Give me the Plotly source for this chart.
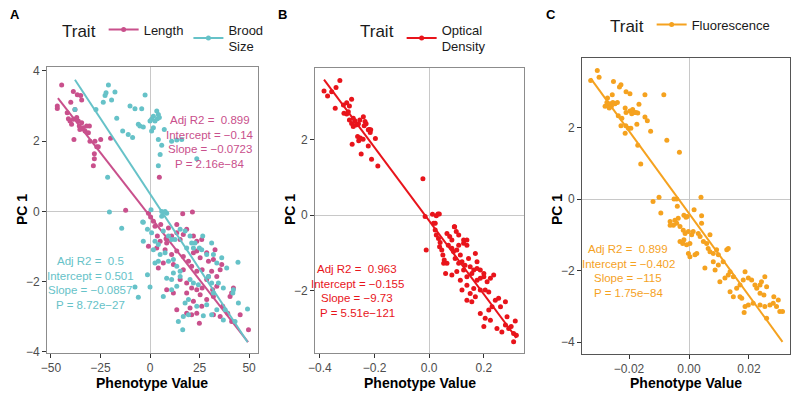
import plotly.graph_objects as go

# ---- data ----
# Panel A: Length (pink)
len_x = [-44.6, -46.8, -46.8, -38.7, -36.7, -35.0, -34.5, -40.0, -37.9, -41.8, -41.2, -40.4, -39.6, -38.7,
         -37.0, -36.2, -35.7, -34.5, -33.7, -32.8, -32.0, -30.6, -31.1, -35.4, -38.4, -30.3, -27.8, -24.9,
         -26.9, -26.1, -28.1, -28.1, -28.6, -19.9, -12.3, 4.7, -0.8, 16.5, 21.4, 0.3,
         1.7, 2.5, 5.4, 9.3, 13.5, 18.5, 13.5, 10.9, 8.1, 3.7, 5.1, 8.4, 15.2, 16.8, 21.9, 23.6, 26.1,
         23.6, -0.8, 3.4, 7.6, 10.9, 13.5, 16.8, 19.4, 21.9, 25.3, 28.6, 29.5, 32.0, 32.8, 6.7, 4.2, 11.8,
         16.8, 21.0, 23.6, 26.3, 31.1, 35.4, 36.2, 15.2, 18.5, 21.0, 23.6, 26.3, 28.6, 31.6, 8.4, 11.8,
         18.5, 25.3, 32.0, 33.7, 40.4, 41.2, 42.1, 28.6, 21.9, 26.1, 20.2, 13.5, 18.5, 21.0, 23.6, 32.0,
         35.4, 39.2, 45.5, 41.2, 24.9, 49.7, 36.7, 33.7, 29.5]
len_y = [3.60, 3.00, 2.93, 3.41, 3.32, 3.30, 3.17, 3.11, 2.90, 2.81, 2.64, 2.57, 2.48, 2.62,
         2.67, 2.57, 2.43, 2.52, 2.38, 2.29, 2.43, 2.43, 2.24, 2.33, 2.05, 2.00, 2.00, 2.05,
         1.84, 1.84, 1.64, 1.50, 1.30, 2.08, 0.03, 0.97, -0.05, -0.07, -0.02, -0.16,
         -0.28, -0.42, -0.37, -0.47, -0.37, -0.51, -0.61, -0.70, -0.78, -0.70, -0.85, -0.90, -0.80, -0.66,
         -0.70, -0.85, -0.80, -1.13, -0.99, -1.04, -1.09, -1.23, -1.13, -1.28, -1.42, -1.18, -1.32, -1.18,
         -1.42, -1.37, -1.09, -1.47, -1.61, -1.51, -1.66, -1.56, -1.70, -1.66, -1.70, -1.66, -1.51, -1.94,
         -2.04, -2.18, -2.23, -2.18, -1.94, -2.23, -2.23, -2.32, -2.32, -2.37, -2.42, -2.13, -2.42, -2.32,
         -2.18, -2.51, -2.56, -2.70, -2.75, -2.80, -2.90, -2.94, -2.90, -2.94, -2.99, -2.90, -2.94, -3.13,
         -3.18, -3.37, -2.70, -1.85, -1.85]

# Panel A: Brood Size (teal)
brood_x = [-21.0, -22.7, -22.2, -17.7, -19.4, -23.6, -2.5, -10.1, -7.6, -4.2, -37.9, -27.3, -16.8,
           3.4, 4.2, 1.7, 0.8, 2.5, 3.7, 4.7, 0.0, -5.9, -5.1, -3.4, -13.8, -11.0, -8.8, 1.7, 0.8, 7.2,
           4.2, 10.9, 13.5, 16.0, 5.9, 5.1, 23.6, 4.2, -21.4, -20.5, 0.5, 5.9, 8.4, 5.9, -3.4, -14.3,
           -3.7, 7.6, -1.3, -3.4, 0.8, 2.5, 4.2, 6.7, 9.3, 10.9, 12.6, 15.2, 17.7, 20.2, 22.7, 26.6,
           1.7, 5.1, 7.6, 9.3, 4.2, 2.5, 11.8, 13.5, 15.2, 18.5, 21.0, 21.9, 24.9, 26.1, 28.6, 31.1, 32.0,
           33.7, 36.2, 38.7, 44.4, -1.3, 0.0, -7.6, -5.9, 6.7, 10.9, 13.5, 20.2, 21.9, 24.4, 29.5, 31.1,
           32.0, 34.5, 37.0, 42.1, 41.8, 44.6, 49.2, 17.7, 19.4, 23.6, 28.6, 33.7, 37.9, 14.3, 16.8, 19.4,
           26.9, 31.1, 37.0, 42.9, 16.5, 11.8, 15.2, 8.4, 10.9]
brood_y = [3.60, 3.30, 3.38, 3.40, 3.17, 3.11, 3.31, 3.00, 2.92, 2.92, 2.90, 2.90, 2.65,
           2.86, 2.76, 2.71, 2.62, 2.57, 2.64, 2.67, 2.57, 2.48, 2.43, 2.40, 2.29, 2.19, 2.10, 2.38, 2.29,
           2.33, 2.05, 2.00, 2.03, 2.05, 1.88, 1.62, 1.50, 1.30, 0.97, -0.02, 0.05, 0.00, -0.05, -0.14,
           -0.31, -0.48, -0.30, 0.00, -0.51, -0.85, -0.61, -0.85, -0.94, -0.56, -0.70, -0.80, -0.80, -0.51,
           -0.56, -0.70, -0.90, -0.70, -1.09, -1.23, -1.18, -1.42, -1.42, -1.47, -1.37, -1.56, -1.70, -1.04,
           -0.90, -1.04, -1.04, -1.09, -1.23, -0.90, -1.23, -1.47, -1.32, -1.61, -1.45, -1.80, -2.15, -2.15,
           -2.44, -2.42, -2.23, -2.13, -1.94, -2.04, -2.09, -1.85, -2.04, -2.32, -2.04, -2.18, -2.23, -2.32,
           -2.61, -2.78, -2.61, -2.51, -2.70, -2.66, -2.80, -2.80, -3.13, -2.99, -2.94, -2.97, -2.94, -3.09,
           -3.13, -3.37, -1.75, -1.85, -1.90, -1.94]

# Panel B: Optical Density (red)
od_x = [-0.385, -0.372, -0.341, -0.327, -0.357, -0.344, -0.314, -0.302, -0.292, -0.284, -0.312, -0.302,
        -0.296, -0.292, -0.278, -0.272, -0.284, -0.278, -0.268, -0.259, -0.241, -0.235, -0.231, -0.238,
        -0.254, -0.223, -0.216, -0.219, -0.214, -0.262, -0.252, -0.242, -0.258, -0.197, -0.282, -0.223,
        -0.249, -0.211, -0.188, -0.023, -0.015, 0.012, 0.026, 0.032, 0.037, 0.022, 0.093,
        -0.011, 0.016, 0.022, 0.026, 0.034, 0.040, 0.038, 0.046, 0.050, 0.055, 0.065, 0.060, 0.053,
        0.065, 0.075, 0.083, 0.092, 0.099, 0.108, 0.070, 0.083, 0.089, 0.101, 0.114, 0.126, 0.138,
        0.095, 0.108, 0.120, 0.131, 0.144, 0.150, 0.163, 0.083, 0.101, 0.114, 0.126, 0.138, 0.156, 0.169,
        0.175, 0.120, 0.138, 0.150, 0.163, 0.175, 0.187, 0.200, 0.138, 0.156, 0.169, 0.187, 0.212, 0.205,
        0.218, 0.187, 0.205, 0.218, 0.230, 0.242, 0.254, 0.261, 0.200, 0.224, 0.248, 0.266, 0.279, 0.285,
        0.279, 0.291, 0.300, 0.309, 0.315, 0.319, 0.309, 0.175, 0.187, 0.200, 0.224, 0.236, 0.108, 0.126,
        0.138]
od_y = [3.29, 3.16, 3.38, 3.57, 3.27, 2.83, 2.92, 2.98, 2.89, 3.07, 2.70, 2.68,
        2.74, 2.52, 2.57, 2.50, 2.43, 2.35, 2.39, 2.42, 2.61, 2.48, 2.42, 2.37,
        2.52, 2.26, 2.19, 2.27, 2.26, 2.08, 2.04, 2.01, 1.97, 2.03, 1.88, 1.83,
        1.62, 1.48, 1.30, 0.96, -0.04, 0.02, -0.02, 0.03, 0.03, -0.22, -0.31,
        -0.93, -0.22, -0.40, -0.53, -0.62, -0.73, -0.84, -0.93, -1.06, -1.19, -1.28, -1.55, -1.28,
        -0.49, -0.57, -0.66, -0.31, -0.44, -0.53, -0.80, -0.88, -0.97, -0.93, -1.06, -0.75, -0.66,
        -1.15, -1.28, -1.24, -1.33, -1.15, -1.37, -1.46, -1.59, -1.50, -1.73, -1.46, -1.64, -1.55, -1.02,
        -1.24, -1.99, -1.86, -2.08, -1.95, -1.73, -1.68, -1.64, -2.26, -2.30, -2.17, -1.99, -1.77, -1.99,
        -2.04, -2.61, -2.74, -2.52, -2.43, -2.26, -2.21, -2.43, -2.96, -2.79, -3.01, -3.10, -2.92, -2.70,
        -2.30, -3.01, -2.96, -3.14, -2.81, -3.19, -3.36, -1.42, -1.46, -1.55, -1.68, -1.59, -0.80, -0.66,
        -0.80]

# Panel C: Fluorescence (orange)
fl_x = [-0.0328, -0.0306, -0.0300, -0.0252, -0.0232, -0.0227, -0.0210, -0.0197, -0.0256, -0.0272,
        -0.0147, -0.0084, -0.0280, -0.0269, -0.0263, -0.0254, -0.0247, -0.0239, -0.0274, -0.0266,
        -0.0259, -0.0167, -0.0213, -0.0210, -0.0197, -0.0191, -0.0183, -0.0177, -0.0171, -0.0188,
        -0.0236, -0.0224, -0.0147, -0.0139, -0.0174, -0.0227, -0.0211, -0.0202, -0.0194, -0.0213,
        -0.0128, -0.0074, -0.0171, -0.0161, -0.0032, -0.0100, -0.0120, -0.0094, -0.0050, -0.0041,
        -0.0039, 0.0017, 0.0040, 0.0042,
        -0.0063, -0.0047, -0.0052, -0.0041, -0.0036, -0.0030, -0.0063, -0.0017, -0.0010, -0.0006,
        0.0042, -0.0019, -0.0013, -0.0002, 0.0009, 0.0014, -0.0030, -0.0021, -0.0017, -0.0008, 0.0003,
        -0.0002, 0.0003, 0.0020, 0.0026, 0.0031, 0.0037, 0.0048, 0.0059, 0.0070, 0.0064, 0.0070, 0.0081,
        0.0092, 0.0098, 0.0081, 0.0087, 0.0098, 0.0114, 0.0126, 0.0131, 0.0053, 0.0103, 0.0120, 0.0131,
        0.0137, 0.0148, 0.0137, 0.0148, 0.0159, 0.0170, 0.0181, 0.0170, 0.0176, 0.0187, 0.0198, 0.0209,
        0.0220, 0.0187, 0.0198, 0.0214, 0.0184, 0.0226, 0.0237, 0.0242, 0.0253, 0.0259, 0.0250, 0.0237,
        0.0253, 0.0270, 0.0281, 0.0283, 0.0298, 0.0292, 0.0303, 0.0312, 0.0259, 0.0237]
fl_y = [3.31, 3.59, 3.40, 3.28, 3.13, 3.19, 3.00, 2.94, 2.91, 2.82,
        2.91, 2.91, 2.59, 2.60, 2.66, 2.70, 2.66, 2.70, 2.70, 2.54,
        2.59, 2.65, 2.54, 2.42, 2.46, 2.38, 2.42, 2.42, 2.40, 2.50,
        2.33, 2.26, 2.29, 2.19, 2.09, 2.05, 2.05, 1.98, 1.98, 1.84,
        1.89, 1.64, 1.50, 0.98, 1.31, 0.05, -0.07, -0.39, 0.00, 0.00,
        -0.20, -0.30, 0.05, -0.47,
        -0.63, -0.59, -0.73, -0.68, -0.54, -0.77, -0.73, -0.45, -0.51, -0.49,
        -0.68, -0.87, -0.96, -0.91, -1.00, -0.91, -1.19, -1.24, -1.14, -1.28, -1.24,
        -1.52, -1.61, -1.56, -1.52, -0.96, -1.05, -1.19, -1.24, -1.00, -1.38, -1.47, -1.52,
        -1.42, -1.56, -1.75, -1.98, -1.84, -1.75, -1.42, -1.38, -1.93, -2.31, -2.21, -2.12,
        -2.03, -2.17, -2.59, -2.73, -2.49, -2.40, -2.26, -2.73, -2.77, -2.03, -2.21, -2.26,
        -2.40, -3.00, -2.96, -2.91, -3.17, -2.49, -2.40, -2.31, -2.17, -2.45, -2.68, -2.96,
        -3.00, -2.96, -2.91, -2.73, -2.82, -3.00, -3.14, -3.14, -3.33, -2.63]

# regression results (shown on the chart)
fits = {
    "Length":    dict(r2="0.899", icpt=-0.14, slope=-0.0723, p="2.16e\u221284", x=[-46.5, 49.5]),
    "Brood":     dict(r2="0.5", icpt=0.501, slope=-0.0857, p="8.72e\u221227", x=[-37.9, 49.2]),
    "OD":        dict(r2="0.963", icpt=-0.155, slope=-9.73, p="5.51e\u2212121", x=[-0.385, 0.319]),
    "Fluor":     dict(r2="0.899", icpt=-0.402, slope=-115, p="1.75e\u221284", x=[-0.0328, 0.0312]),
}

PINK = "#C9508C"
TEAL = "#66C2C8"
RED = "#E8141B"
ORANGE = "#F5A21F"

FONT = "Liberation Sans, Arial, sans-serif"

fig = go.Figure()


def add_series(x, y, fit, color, name, ax, legend):
    xa = "x" if ax == 1 else "x%d" % ax
    ya = "y" if ax == 1 else "y%d" % ax
    fig.add_trace(go.Scatter(x=x, y=y, mode="markers", xaxis=xa, yaxis=ya,
                             marker=dict(color=color, size=5), showlegend=False, hoverinfo="skip"))
    lx = fit["x"]
    ly = [fit["icpt"] + fit["slope"] * v for v in lx]
    fig.add_trace(go.Scatter(x=lx, y=ly, mode="lines", xaxis=xa, yaxis=ya,
                             line=dict(color=color, width=2), showlegend=False))
    # legend key (line + point)
    fig.add_trace(go.Scatter(x=[None], y=[None], mode="lines+markers", xaxis=xa, yaxis=ya,
                             line=dict(color=color, width=2), marker=dict(color=color, size=5),
                             name=name, legend=legend))


add_series(len_x, len_y, fits["Length"], PINK, "Length", 1, "legend")
add_series(brood_x, brood_y, fits["Brood"], TEAL, "Brood<br>Size", 1, "legend")
add_series(od_x, od_y, fits["OD"], RED, "Optical<br>Density", 2, "legend2")
add_series(fl_x, fl_y, fits["Fluor"], ORANGE, "Fluorescence", 3, "legend3")

# the page body has an 8px margin, so the figure sits at (8, 8) in the window
OFF = 8
W, H = 800 - 2 * OFF, 400 - 2 * OFF


def px(v):
    return (v - OFF) / W


def py(v):
    return 1 - (v - OFF) / H


axis_common = dict(showgrid=False, showline=True, mirror=True, linecolor="#8C8C8C", linewidth=1,
                   ticks="outside", ticklen=4, tickcolor="#333333",
                   tickfont=dict(family=FONT, size=12, color="#4D4D4D"),
                   zeroline=True, zerolinecolor="#C8C8C8", zerolinewidth=1)
dark_axis = dict(axis_common, linecolor="#555555")

fig.update_layout(
    width=W, height=H, margin=dict(l=0, r=0, t=0, b=0, autoexpand=False),
    paper_bgcolor="white", plot_bgcolor="white",
    font=dict(family=FONT),
    xaxis=dict(axis_common, domain=[px(47), px(258)], range=[-52, 54.5], tickvals=[-50, -25, 0, 25, 50],
               ticktext=["\u221250", "\u221225", "0", "25", "50"], anchor="y"),
    yaxis=dict(axis_common, domain=[py(353), py(67)], range=[-4.03, 4.11], tickvals=[-4, -2, 0, 2, 4],
               ticktext=["\u22124", "\u22122", "0", "2", "4"], anchor="x"),
    xaxis2=dict(axis_common, domain=[px(315), px(524)], range=[-0.418, 0.347], tickvals=[-0.4, -0.2, 0.0, 0.2],
                ticktext=["\u22120.4", "\u22120.2", "0.0", "0.2"], anchor="y2"),
    yaxis2=dict(axis_common, domain=[py(353), py(68)], range=[-3.66, 3.9], tickvals=[-2, 0, 2],
                ticktext=["\u22122", "0", "2"], anchor="x2"),
    xaxis3=dict(dark_axis, domain=[px(582), px(790)], range=[-0.0357, 0.0337], tickvals=[-0.02, 0.0, 0.02],
                ticktext=["\u22120.02", "0.00", "0.02"], anchor="y3"),
    yaxis3=dict(dark_axis, domain=[py(354), py(58)], range=[-4.33, 3.94], tickvals=[-4, -2, 0, 2],
                ticktext=["\u22124", "\u22122", "0", "2"], anchor="x3"),
    showlegend=True,
)

leg_common = dict(orientation="h", xanchor="left", yanchor="middle", bgcolor="rgba(0,0,0,0)",
                  font=dict(family=FONT, size=13, color="#1A1A1A"), itemwidth=30, tracegroupgap=0,
                  title=dict(text="Trait", side="left", font=dict(family=FONT, size=17, color="#1A1A1A")))
fig.update_layout(
    legend=dict(leg_common, x=px(60), y=py(38)),
    legend2=dict(leg_common, x=px(358), y=py(38)),
    legend3=dict(leg_common, x=px(608), y=py(26)),
)

ann = []
# panel letters
for letter, x in [("A", 8), ("B", 276), ("C", 544)]:
    ann.append(dict(text="<b>%s</b>" % letter, x=px(x), y=py(15), xref="paper", yref="paper",
                    xanchor="left", yanchor="middle", showarrow=False, font=dict(family=FONT, size=13, color="black")))
# axis titles
for x in [22, 290, 557]:
    ann.append(dict(text="<b>PC 1</b>", x=px(x), y=py(210), xref="paper", yref="paper", textangle=-90,
                    xanchor="center", yanchor="middle",
                    showarrow=False, font=dict(family=FONT, size=14, color="black")))
for x in [152, 420, 686]:
    ann.append(dict(text="<b>Phenotype Value</b>", x=px(x), y=py(383), xref="paper", yref="paper",
                    xanchor="center", yanchor="middle",
                    showarrow=False, font=dict(family=FONT, size=14, color="black")))


def stats_block(fit, color, cx, cy):
    icpt = ("%g" % fit["icpt"]).replace("-", "\u2212")
    slope = ("%g" % fit["slope"]).replace("-", "\u2212")
    lines = ["Adj R2 =  " + fit["r2"], "Intercept = " + icpt, "Slope = " + slope, "P = " + fit["p"]]
    for i, t in enumerate(lines):
        ann.append(dict(text=t, x=px(cx), y=py(cy + i * 14.7), xref="paper", yref="paper",
                        xanchor="center", yanchor="middle",
                        showarrow=False, font=dict(family=FONT, size=11.5, color=color)))


stats_block(fits["Length"], PINK, 210, 120)
stats_block(fits["Brood"], TEAL, 90, 261)
stats_block(fits["OD"], RED, 357, 269)
stats_block(fits["Fluor"], ORANGE, 628, 249)

fig.update_layout(annotations=ann)

fig.write_html("out.html")
